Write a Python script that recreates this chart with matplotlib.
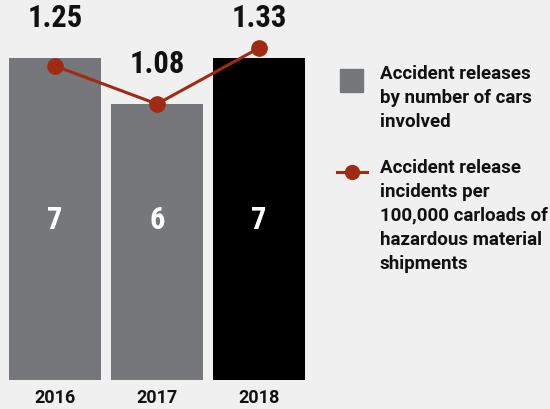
import matplotlib
matplotlib.use("Agg")
import matplotlib.pyplot as plt
from matplotlib.lines import Line2D
from matplotlib.patches import Rectangle

years = ["2016", "2017", "2018"]
cars_involved = [7, 6, 7]
incidents_per_100k = [1.25, 1.08, 1.33]

bg = "#f0f0f0"
gray = "#76777b"
black = "#000000"
red = "#a12a12"
bar_colors = [gray, gray, black]

num_font = ["Roboto Condensed", "Liberation Sans Narrow", "DejaVu Sans"]
txt_font = ["Roboto", "DejaVu Sans"]

fig = plt.figure(figsize=(5.5, 4.1), dpi=100, facecolor=bg)
ax = fig.add_axes([4 / 550, 29 / 410, 306 / 550, 368 / 410])
ax.set_facecolor(bg)

x = list(range(len(years)))
ax.bar(x, cars_involved, width=0.9, color=bar_colors)
ax.set_xlim(-0.5, 2.5)
ax.set_ylim(0, 8)
for xi, v in zip(x, cars_involved):
    ax.text(xi, 3.5, f"{v}", ha="center", va="center", color="white",
            fontsize=22, fontweight="bold", family=num_font)

ax.set_xticks(x)
ax.set_xticklabels(years, fontsize=13, fontweight="bold", family=txt_font,
                   color="#111111")
ax.tick_params(axis="x", length=0, pad=6)
ax.set_yticks([])
for s in ax.spines.values():
    s.set_visible(False)

# incident rate line on its own scale
ax2 = ax.twinx()
ax2.set_ylim(-0.153, 1.491)
ax2.plot(x, incidents_per_100k, color=red, lw=2.2, marker="o",
         markersize=11, zorder=3)
ax2.set_yticks([])
for s in ax2.spines.values():
    s.set_visible(False)

# rate labels sit a fixed distance above each bar
for xi, h, v in zip(x, cars_involved, incidents_per_100k):
    ax.annotate(f"{v:.2f}", (xi, h), xytext=(0, 18.5), textcoords="offset points",
                ha="center", va="bottom", fontsize=22, fontweight="bold",
                family=num_font, color="#111111")

# legend drawn by hand on the right
fig.patches.append(Rectangle((340 / 550, 1 - 93 / 410), 23 / 550, 23 / 410,
                             transform=fig.transFigure, color=gray))
fig.lines.append(Line2D([337 / 550, 367 / 550], [1 - 173 / 410] * 2,
                        transform=fig.transFigure, color=red, lw=2.2))
fig.lines.append(Line2D([352 / 550], [1 - 173 / 410], transform=fig.transFigure,
                        color=red, marker="o", markersize=10))
fig.text(380 / 550, 1 - 65 / 410, "Accident releases\nby number of cars\ninvolved",
         ha="left", va="top", fontsize=13.5, fontweight="bold", family=txt_font,
         linespacing=1.42, color="#111111")
fig.text(380 / 550, 1 - 159 / 410,
         "Accident release\nincidents per\n100,000 carloads of\nhazardous material\nshipments",
         ha="left", va="top", fontsize=13.5, fontweight="bold", family=txt_font,
         linespacing=1.42, color="#111111")

fig.savefig("out.png", dpi=100, facecolor=bg)
